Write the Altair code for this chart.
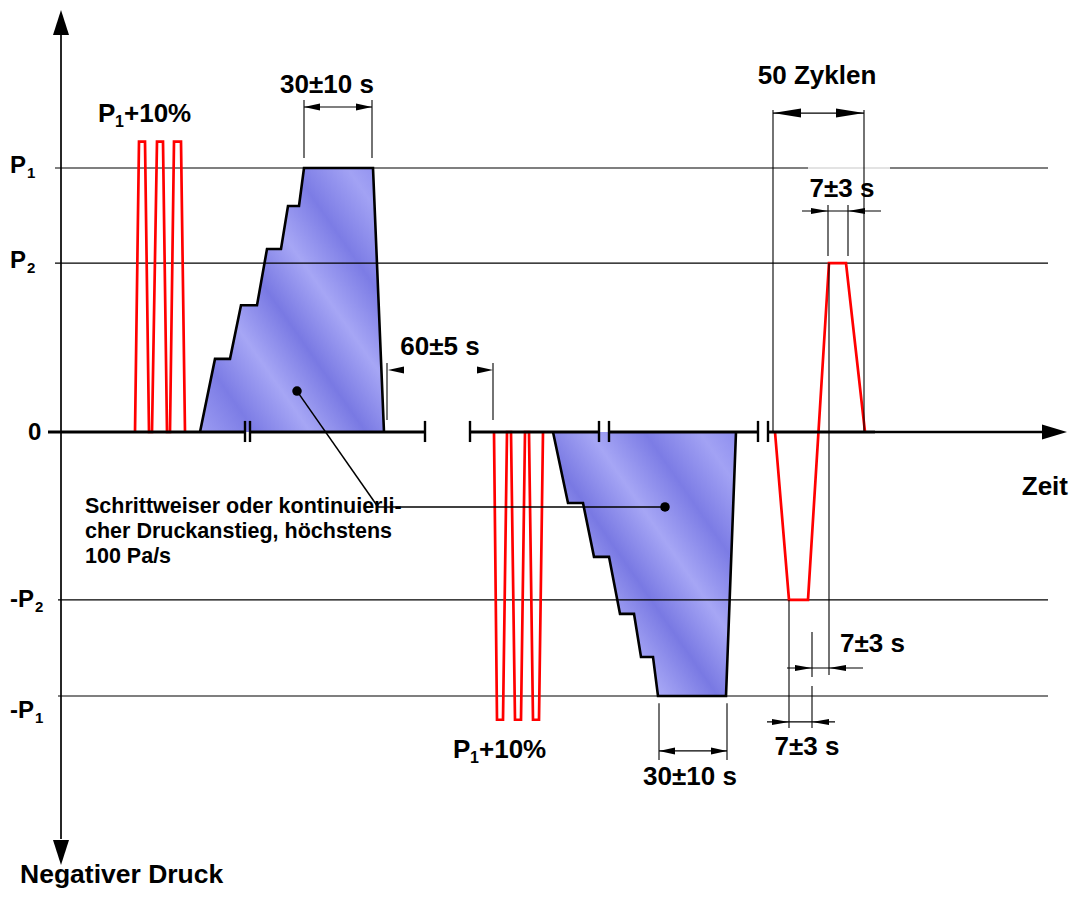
import altair as alt
import pandas as pd

# ---------------- data: x = Zeit (schematic units), y = Druck in units of P1 ----------------
# red test pulses at P1 + 10 %
pulse_pos_t = [135, 139, 145, 149, 152, 157, 163, 167, 170, 174, 181, 185]
pulse_pos_p = [0, 1.10, 1.10, 0, 0, 1.10, 1.10, 0, 0, 1.10, 1.10, 0]
pulse_neg_t = [494, 497, 503, 507, 511, 515, 521, 525, 529, 533, 539, 543]
pulse_neg_p = [0, -1.09, -1.09, 0, 0, -1.09, -1.09, 0, 0, -1.09, -1.09, 0]
# one of the 50 cycles (-P2 ... +P2)
cycle_t = [775, 789, 808, 829, 846, 865]
cycle_p = [0, -0.636, -0.636, 0.64, 0.64, 0]
# stepwise pressure rise (hatched areas)
stair_pos_t = [200, 215, 230, 241, 257, 267, 281, 288, 299, 304, 373, 384]
stair_pos_p = [0, 0.277, 0.277, 0.48, 0.48, 0.693, 0.693, 0.856, 0.856, 1.0, 1.0, 0]
stair_neg_t = [553, 568, 583, 594, 609, 620, 634, 641, 653, 658, 726, 736]
stair_neg_p = [0, -0.269, -0.269, -0.473, -0.473, -0.689, -0.689, -0.852, -0.852, -1.0, -1.0, 0]
# pressure levels
level_names = ["P1", "P2", "-P2", "-P1"]
level_values = [1.0, 0.64, -0.636, -1.0]
# axis breaks on the time axis
break_ticks_t = [245, 250, 425, 470, 599, 609, 758, 768]
axis_segments_t = [(48, 245), (250, 425), (470, 599), (609, 758), (768, 875)]
# texts
dim_labels = ["30±10 s", "60±5 s", "50 Zyklen", "7±3 s", "7±3 s", "30±10 s"]
dim_label_t = [327, 440, 817, 842, 807, 690]
dim_label_p = [1.284, 0.292, 1.318, 0.890, -1.223, -1.337]
note_lines = ["Schrittweiser oder kontinuierli-",
              "cher Druckanstieg, höchstens",
              "100 Pa/s"]
note_p = [-0.307, -0.402, -0.496]

X_SCALE = alt.Scale(domain=[8, 1070], nice=False, zero=False)
Y_SCALE = alt.Scale(domain=[-1.731, 1.606], nice=False, zero=False)
FONT = "Liberation Sans"


def xy(**kw):
    return dict(x=alt.X("x:Q", scale=X_SCALE, axis=None),
                y=alt.Y("y:Q", scale=Y_SCALE, axis=None), **kw)


def segs(rows, width, color="black", cap="butt"):
    df = pd.DataFrame(rows, columns=["x", "y", "x2", "y2"])
    return alt.Chart(df).mark_rule(strokeWidth=width, color=color, strokeCap=cap).encode(
        **xy(x2=alt.X2("x2:Q"), y2=alt.Y2("y2:Q")))


def polyline(ts, ps, color, width):
    df = pd.DataFrame({"x": ts, "y": ps, "i": list(range(len(ts)))})
    return alt.Chart(df).mark_line(color=color, strokeWidth=width, strokeJoin="miter",
                                   strokeCap="butt").encode(**xy(order="i:Q"))


GRAD = {"gradient": "linear", "x1": 0, "y1": 1, "x2": 1, "y2": 0,
        "stops": [{"offset": 0.00, "color": "#9c9cf3"},
                  {"offset": 0.15, "color": "#7c7ce5"},
                  {"offset": 0.30, "color": "#a6a6f5"},
                  {"offset": 0.45, "color": "#7979e3"},
                  {"offset": 0.60, "color": "#a6a6f5"},
                  {"offset": 0.75, "color": "#7c7ce5"},
                  {"offset": 0.90, "color": "#a2a2f4"},
                  {"offset": 1.00, "color": "#8e8eef"}]}


def area(ts, ps):
    df = pd.DataFrame({"x": ts, "y": ps, "base": [0] * len(ts)})
    return alt.Chart(df).mark_area(color=GRAD, opacity=1, interpolate="linear").encode(
        **xy(y2=alt.Y2("base:Q")))


def arrows(rows, L, W):
    paths = {"r": f"M0,0L{-L},{-W}L{-L},{W}Z",
             "l": f"M0,0L{L},{-W}L{L},{W}Z",
             "u": f"M0,0L{-W},{L}L{W},{L}Z",
             "d": f"M0,0L{-W},{-L}L{W},{-L}Z"}
    df = pd.DataFrame([(x, y, paths[d]) for x, y, d in rows], columns=["x", "y", "s"])
    return alt.Chart(df).mark_point(filled=True, color="black", size=4, opacity=1,
                                    strokeWidth=0).encode(
        **xy(shape=alt.Shape("s:N", scale=None)))


def texts(rows, size, align="left"):
    df = pd.DataFrame(rows, columns=["x", "y", "t"])
    return alt.Chart(df).mark_text(font=FONT, fontWeight="bold", fontSize=size, align=align,
                                   baseline="alphabetic", color="black").encode(
        **xy(text="t:N"))


layers = []
# hatched areas
layers.append(area(stair_pos_t, stair_pos_p))
layers.append(area(stair_neg_t, stair_neg_p))

# reference lines for the pressure levels
ref_rows = [(55, level_values[0], 808, level_values[0]),
            (890, level_values[0], 1048, level_values[0]),
            (55, level_values[1], 1048, level_values[1]),
            (58, level_values[2], 1048, level_values[2]),
            (58, level_values[3], 1048, level_values[3])]
layers.append(segs(ref_rows, 1.2))
layers.append(segs([(808, level_values[0], 890, level_values[0])], 1.2, color="#c8c8c8"))

# red pulses
layers.append(polyline(pulse_pos_t, pulse_pos_p, "#ff0000", 2.7))
layers.append(polyline(pulse_neg_t, pulse_neg_p, "#ff0000", 2.7))
layers.append(polyline(cycle_t, cycle_p, "#ff0000", 2.7))

# staircase outlines
layers.append(polyline(stair_pos_t, stair_pos_p, "black", 2.6))
layers.append(polyline(stair_neg_t, stair_neg_p, "black", 2.6))

# axes
layers.append(segs([(a, 0, b, 0) for a, b in axis_segments_t], 3.2))
layers.append(segs([(875, 0, 1045, 0)], 2.6))
layers.append(segs([(t, 0.042, t, -0.038) for t in break_ticks_t], 2.4))
layers.append(segs([(61, 1.504, 61, -1.542)], 1.7))

# dimension lines
dim_rows = [
    (304, 1.258, 304, 1.038), (372, 1.258, 372, 1.038), (304, 1.231, 372, 1.231),
    (387, 0.261, 387, 0.045), (493, 0.261, 493, 0.045),
    (773, 1.220, 773, 0), (864, 1.220, 864, 0), (773, 1.208, 864, 1.208),
    (828, 0.860, 828, 0.667), (848, 0.860, 848, 0.667), (802, 0.837, 881, 0.837),
    (812, -0.758, 812, -0.928), (812, -0.962, 812, -1.121),
    (829, 0.64, 829, -0.920), (789, -0.636, 789, -1.121), (787, -0.894, 863, -0.894),
    (767, -1.098, 835, -1.098),
    (659, -1.027, 659, -1.242), (727, -1.027, 727, -1.242), (659, -1.208, 727, -1.208),
]
layers.append(segs(dim_rows, 1.1))
# leader line of the note
layers.append(segs([(297, 0.155, 378, -0.284), (378, -0.284, 665, -0.284)], 1.5))

# arrow heads
layers.append(arrows([(304, 1.231, "l"), (372, 1.231, "r"), (659, -1.208, "l"),
                      (727, -1.208, "r"), (388, 0.235, "l"), (493, 0.235, "r")], 16, 3.5))
layers.append(arrows([(828, 0.837, "r"), (848, 0.837, "l"), (812, -0.894, "r"),
                      (829, -0.894, "l"), (789, -1.098, "r"), (812, -1.098, "l")], 17, 3))
layers.append(arrows([(773, 1.208, "l"), (864, 1.208, "r")], 28, 4.5))
layers.append(arrows([(61, 1.598, "u"), (61, -1.640, "d")], 25, 8))
layers.append(arrows([(1067, 0, "r")], 25, 7.5))

# leader dots
dots = pd.DataFrame({"x": [297, 665], "y": [0.155, -0.284]})
layers.append(alt.Chart(dots).mark_point(filled=True, color="black", size=90, opacity=1,
                                         shape="circle", strokeWidth=0).encode(**xy()))

# texts
layers.append(texts(list(zip(dim_label_t, dim_label_p, dim_labels)), 26, "center"))
layers.append(texts([(840, -0.833, "7±3 s")], 26))
layers.append(texts([(1068, -0.239, "Zeit")], 26, "right"))
layers.append(texts([(20, -1.708, "Negativer Druck")], 26.5))
layers.append(texts([(85, p, s) for p, s in zip(note_p, note_lines)], 21.5))
# P1+10% labels (with subscript)
layers.append(texts([(98, 1.174, "P"), (124, 1.174, "+10%"),
                     (453, -1.235, "P"), (479, -1.235, "+10%")], 26))
layers.append(texts([(115, 1.155, "1"), (470, -1.254, "1")], 16))
# level labels on the pressure axis
layers.append(texts([(10, 0.981, "P"), (10, 0.621, "P"), (28, -0.030, "0"),
                     (10, -0.663, "-P"), (10, -1.083, "-P")], 24))
layers.append(texts([(27, 0.962, "1"), (27, 0.602, "2"),
                     (35, -0.682, "2"), (35, -1.102, "1")], 15))

chart = alt.layer(*layers).properties(
    width=1062, height=881, padding=0,
    autosize=alt.AutoSizeParams(type="none")
).configure_view(stroke=None)

chart.save("out.html", embed_options={"renderer": "svg", "actions": False})
